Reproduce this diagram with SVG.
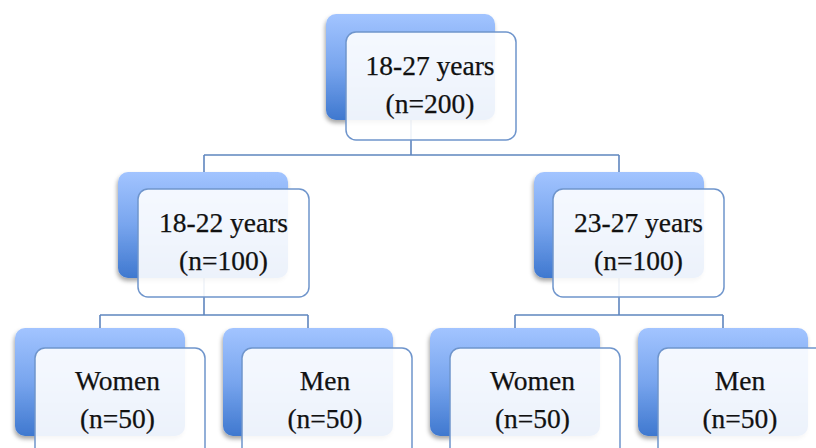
<svg xmlns="http://www.w3.org/2000/svg" width="816" height="448" viewBox="0 0 816 448">
<style>
.back{fill:url(#bg);filter:url(#sh)}
.front{fill:#ffffff;fill-opacity:0.9;stroke:#6f95cc;stroke-width:1.5}
.conn{fill:none;stroke:#5f86bf;stroke-width:1.6}
text{font-family:"Liberation Serif","Times New Roman",serif;font-size:27.5px;fill:#111111;text-anchor:middle;stroke:#111111;stroke-width:0.25}
</style>
<defs>
<linearGradient id="bg" x1="0" y1="0" x2="0" y2="1">
<stop offset="0" stop-color="#a2c4ff"/>
<stop offset="0.5" stop-color="#78a5ee"/>
<stop offset="1" stop-color="#3f78cf"/>
</linearGradient>
<filter id="sh" x="-10%" y="-10%" width="120%" height="125%">
<feDropShadow dx="-1" dy="3" stdDeviation="2" flood-color="#000" flood-opacity="0.35"/>
</filter>
</defs>
<g id="connectors">
<path class="conn" d="M411 120 V155 M204 155 H619 M204 155 V172 M619 155 V172"/>
<path class="conn" d="M204 278 V315 M100 315 H308 M100 315 V328 M308 315 V328"/>
<path class="conn" d="M619 278 V315 M515 315 H723 M515 315 V328 M723 315 V328"/>
</g>
<g id="n-top">
<rect class="back" x="326" y="14" width="169" height="106" rx="10"/>
<rect class="front" x="346" y="32" width="170" height="108" rx="10"/>
<text x="430" y="75">18-27 years</text>
<text x="430" y="113">(n=200)</text>
</g>
<g id="n-1822">
<rect class="back" x="118" y="172" width="170" height="106" rx="10"/>
<rect class="front" x="138" y="189" width="171" height="108" rx="10"/>
<text x="223.5" y="232">18-22 years</text>
<text x="223.5" y="270">(n=100)</text>
</g>
<g id="n-2327">
<rect class="back" x="534" y="172" width="170" height="106" rx="10"/>
<rect class="front" x="553" y="189" width="171" height="108" rx="10"/>
<text x="638.5" y="232">23-27 years</text>
<text x="638.5" y="270">(n=100)</text>
</g>
<g id="n-women-1">
<rect class="back" x="15" y="328" width="170" height="108" rx="10"/>
<rect class="front" x="35" y="348" width="170" height="110" rx="10"/>
<text x="117.5" y="390">Women</text>
<text x="117.5" y="428">(n=50)</text>
</g>
<g id="n-men-1">
<rect class="back" x="223" y="328" width="170" height="108" rx="10"/>
<rect class="front" x="242" y="348" width="170" height="110" rx="10"/>
<text x="325" y="390">Men</text>
<text x="325" y="428">(n=50)</text>
</g>
<g id="n-women-2">
<rect class="back" x="430" y="328" width="170" height="108" rx="10"/>
<rect class="front" x="450" y="348" width="170" height="110" rx="10"/>
<text x="532.5" y="390">Women</text>
<text x="532.5" y="428">(n=50)</text>
</g>
<g id="n-men-2">
<rect class="back" x="638" y="328" width="170" height="108" rx="10"/>
<rect class="front" x="658" y="348" width="170" height="110" rx="10"/>
<text x="740" y="390">Men</text>
<text x="740" y="428">(n=50)</text>
</g>
</svg>
